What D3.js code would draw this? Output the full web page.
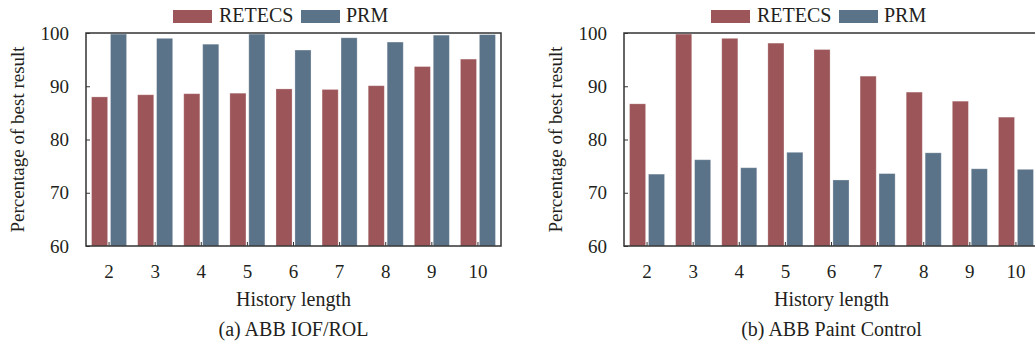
<!DOCTYPE html>
<html>
<head>
<meta charset="utf-8">
<script src="https://cdn.jsdelivr.net/npm/d3@7"></script>
<style>
  html, body { margin: 0; padding: 0; background: #fff; }
  svg { display: block; }
  svg text { font-family: "Liberation Serif", "Times New Roman", Times, serif; fill: #231f20; }
</style>
</head>
<body>
<svg id="chart" width="1035" height="347"></svg>
<script>
// History lengths on the x axis
const historyLengths = ["2", "3", "4", "5", "6", "7", "8", "9", "10"];
const seriesNames = ["RETECS", "PRM"];
const yTicks = [60, 70, 80, 90, 100];

// (a) ABB IOF/ROL
const iofRetecs = [88.0, 88.4, 88.6, 88.7, 89.5, 89.4, 90.1, 93.7, 95.1];
const iofPrm    = [99.8, 99.0, 97.9, 99.8, 96.8, 99.1, 98.3, 99.6, 99.7];

// (b) ABB Paint Control
const paintRetecs = [86.7, 99.8, 99.0, 98.1, 96.9, 91.9, 88.9, 87.2, 84.2];
const paintPrm    = [73.5, 76.2, 74.7, 77.6, 72.4, 73.6, 77.5, 74.5, 74.4];

const panelTitles = ["(a) ABB IOF/ROL", "(b) ABB Paint Control"];
const xTitle = "History length";
const yTitle = "Percentage of best result";

const colors = { RETECS: "#9c5558", PRM: "#5b7389" };
const serif = '"Liberation Serif", "Times New Roman", Times, serif';

const svg = d3.select("#chart");

function drawPanel(left, title, retecs, prm) {
  const top = 33, bottom = 246, width = 415;
  const g = svg.append("g").attr("transform", `translate(${left},0)`)
    .style("font-family", serif);

  const x0 = d3.scaleBand().domain(historyLengths).range([0, width])
    .paddingInner(0.24).paddingOuter(0.12);
  const x1 = d3.scaleBand().domain(seriesNames).range([0, x0.bandwidth()])
    .paddingInner(0.15);
  const y = d3.scaleLinear().domain([60, 100]).range([bottom, top]);

  const rows = historyLengths.map((h, i) => ({
    h, values: [{ key: "RETECS", v: retecs[i] }, { key: "PRM", v: prm[i] }]
  }));

  const groups = g.selectAll("g.cat").data(rows).join("g")
    .attr("class", "cat")
    .attr("transform", d => `translate(${x0(d.h)},0)`);
  groups.selectAll("rect").data(d => d.values).join("rect")
    .attr("x", d => x1(d.key))
    .attr("width", x1.bandwidth())
    .attr("y", d => y(d.v))
    .attr("height", d => y(60) - y(d.v))
    .attr("fill", d => colors[d.key])
    .attr("stroke", "rgba(255,255,255,0.35)")
    .attr("stroke-width", 0.8);

  // y axis with inward ticks
  const yAxis = g.append("g")
    .call(d3.axisLeft(y).tickValues(yTicks).tickSize(-4).tickPadding(17));
  yAxis.attr("font-family", null).attr("font-size", null);
  yAxis.select(".domain").remove();
  yAxis.selectAll("line").attr("stroke", "#333").attr("stroke-width", 1);
  yAxis.selectAll("text").style("font-size", "19px").style("font-family", serif)
    .attr("fill", "#231f20");

  // x axis with inward ticks
  const xAxis = g.append("g").attr("transform", `translate(0,${bottom})`)
    .call(d3.axisBottom(x0).tickSize(-4).tickPadding(19));
  xAxis.attr("font-family", null).attr("font-size", null);
  xAxis.select(".domain").remove();
  xAxis.selectAll("line").attr("stroke", "#333").attr("stroke-width", 1);
  xAxis.selectAll("text").style("font-size", "19px").style("font-family", serif)
    .attr("fill", "#231f20");

  // frame
  g.append("rect").attr("x", 0).attr("y", top)
    .attr("width", width).attr("height", bottom - top)
    .attr("fill", "none").attr("stroke", "#333").attr("stroke-width", 1.5);

  // legend
  const legend = [
    { key: "RETECS", rx: 87, tx: 133 },
    { key: "PRM", rx: 215, tx: 260 }
  ];
  legend.forEach(l => {
    g.append("rect").attr("x", l.rx).attr("y", 10).attr("width", 39).attr("height", 13)
      .attr("fill", colors[l.key]);
    g.append("text").attr("x", l.tx).attr("y", 22).style("font-size", "20px").text(l.key);
  });

  // axis titles
  g.append("text").attr("x", width / 2).attr("y", 306).attr("text-anchor", "middle")
    .style("font-size", "20px").text(xTitle);
  g.append("text").attr("x", width / 2).attr("y", 336).attr("text-anchor", "middle")
    .style("font-size", "20px").text(title);
  g.append("text").attr("transform", `translate(${-62},${(top + bottom) / 2}) rotate(-90)`)
    .attr("text-anchor", "middle").style("font-size", "19px").text(yTitle);
}

drawPanel(86, panelTitles[0], iofRetecs, iofPrm);
drawPanel(624, panelTitles[1], paintRetecs, paintPrm);
</script>
</body>
</html>
